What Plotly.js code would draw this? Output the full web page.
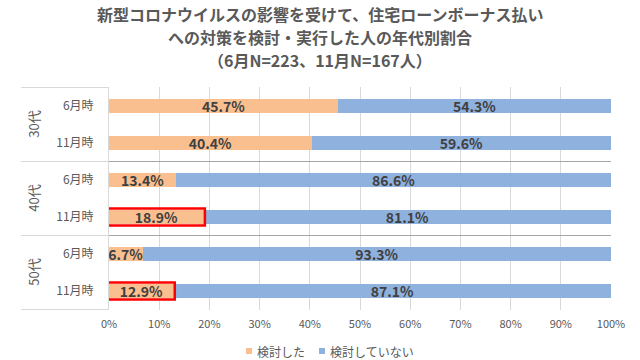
<!DOCTYPE html>
<html><head><meta charset="utf-8">
<script src="https://cdn.plot.ly/plotly-3.0.1.min.js"></script>
<style>html,body{margin:0;padding:0;background:#fff}#chart{width:640px;height:360px}</style>
</head><body><div id="chart"></div>
<script>
const ages = ["30代", "40代", "50代"];
const periods = ["6月時", "11月時"];
const considered =    [45.7, 40.4, 13.4, 18.9, 6.7, 12.9];
const notConsidered = [54.3, 59.6, 86.6, 81.1, 93.3, 87.1];
const highlighted = [false, false, false, true, false, true];
const seriesNames = ["検討した", "検討していない"];
const seriesColors = ["#FABF8F", "#8FB1DD"];
const titleLines = ["新型コロナウイルスの影響を受けて、住宅ローンボーナス払い",
                    "への対策を検討・実行した人の年代別割合",
                    "（6月N=223、11月N=167人）"];

const ids = [], tickText = [];
ages.forEach(a => periods.forEach(p => { ids.push(a + p); tickText.push(p); }));

const font = "'Noto Sans CJK JP', 'Noto Sans', sans-serif";
const labelFont = {family: font, size: 14, color: "#404040", weight: "bold"};

const traces = [considered, notConsidered].map((vals, s) => ({
  type: "bar", orientation: "h", name: seriesNames[s], y: ids, x: vals,
  marker: {color: seriesColors[s]}, width: 0.4, text: vals.map(v => v.toFixed(1) + "%"),
  textposition: "inside", insidetextanchor: "middle", constraintext: "none", textfont: labelFont,
  cliponaxis: false, hoverinfo: "none", showlegend: false
}));

const plotL = 109, plotW = 502, plotH = 223, plotBottom = 310;
const px = x => (x - plotL) / plotW;
const py = y => (plotBottom - y) / plotH;

const shapes = [];
const frameX0 = -0.175;
[-0.5, 1.5, 3.5, 5.5].forEach((y, i) => {
  shapes.push({type: "line", xref: "paper", yref: "y", x0: frameX0, x1: 0, y0: y, y1: y,
    line: {color: "#D9D9D9", width: 1}});
  if (i === 1 || i === 2) shapes.push({type: "line", xref: "paper", yref: "y", x0: 0, x1: 1, y0: y, y1: y,
    line: {color: "#A6A6A6", width: 1}});
});
highlighted.forEach((h, i) => {
  if (h) shapes.push({type: "rect", xref: "x", yref: "y", x0: -0.3, x1: considered[i] + 0.2,
    y0: i - 0.23, y1: i + 0.23, line: {color: "#FF0000", width: 2.5}, layer: "above"});
});

const annotations = ages.map((a, k) => ({
  text: a, xref: "paper", yref: "y", x: -0.151, y: k * 2 + 0.5, showarrow: false, textangle: -90,
  font: {family: font, size: 13, color: "#595959"}, xanchor: "center", yanchor: "middle"
}));
const titleY = [14, 37, 60];
titleLines.forEach((t, i) => annotations.push({
  text: "<b>" + t + "</b>", xref: "paper", yref: "paper", x: px(320),
  y: py(titleY[i]), xanchor: "center", yanchor: "middle", showarrow: false,
  font: {family: font, size: 16, color: "#595959"}
}));

// legend (manual, compact like the reference)
const legendX = [246, 319];
seriesNames.forEach((n, s) => {
  shapes.push({type: "rect", xref: "paper", yref: "paper", x0: px(legendX[s]), x1: px(legendX[s] + 6),
    y0: py(354), y1: py(348), fillcolor: seriesColors[s], line: {width: 0}});
  annotations.push({text: n, xref: "paper", yref: "paper", x: px(legendX[s] + 9), y: py(351),
    xanchor: "left", yanchor: "middle", showarrow: false,
    font: {family: font, size: 12, color: "#595959"}});
});

const layout = {
  width: 640, height: 360,
  margin: {l: plotL, r: 640 - plotL - plotW, t: 87, b: 360 - plotBottom, autoexpand: false},
  paper_bgcolor: "#fff", plot_bgcolor: "#fff",
  barmode: "stack",
  showlegend: false,
  xaxis: {range: [0, 100], dtick: 10, ticksuffix: "%", showgrid: true, gridcolor: "#D9D9D9",
    zeroline: false, showline: false, tickfont: {family: font, size: 11, color: "#595959"},
    ticklabelstandoff: 6, fixedrange: true},
  yaxis: {type: "category", categoryorder: "array", categoryarray: ids, autorange: "reversed",
    tickvals: ids, ticktext: tickText, showgrid: false, zeroline: false,
    showline: true, linecolor: "#D9D9D9", tickfont: {family: font, size: 12, color: "#595959"},
    ticklabelstandoff: 12, fixedrange: true},
  shapes: shapes,
  annotations: annotations,
  font: {family: font}
};

Plotly.newPlot("chart", traces, layout, {displayModeBar: false, staticPlot: true});
</script>
</body></html>
